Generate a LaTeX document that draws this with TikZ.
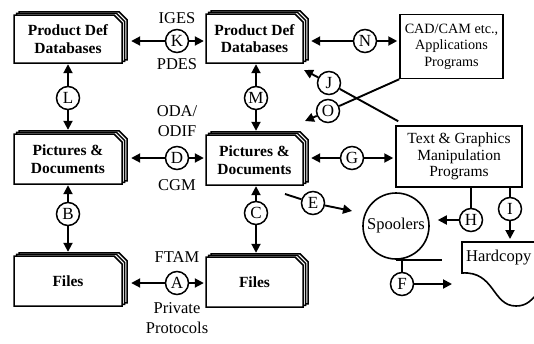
\documentclass[tikz,border=0pt]{standalone}
\usepackage{fontspec}
\setmainfont{Liberation Serif}
\usetikzlibrary{arrows.meta,calc}

\tikzset{
  cardline/.style={line width=1.5pt, fill=white, line join=miter},
  cardtext/.style={font=\fontsize{15.5}{17.5}\selectfont\bfseries, align=center, inner sep=0pt},
  plainbox/.style={draw, line width=1.5pt, align=center, font=\fontsize{15.5}{16.5}\selectfont, inner sep=0pt},
  letter/.style={circle, draw, line width=1.5pt, minimum size=23pt, inner sep=0pt, font=\fontsize{17}{17}\selectfont},
  proto/.style={font=\fontsize{16.5}{19.5}\selectfont, inner sep=0pt, align=center},
  wire/.style={line width=1.9pt},
  tip/.style={wire, -{Triangle[length=9pt,width=9pt]}},
}

% a stack of three cards with a clipped upper right corner
% #1 name, #2 left, #3 top, #4 right, #5 bottom, #6 text
\newcommand\cardstack[6]{%
  \foreach \k in {2,1,0}{%
    \draw[cardline, shift={(2.5*\k,-1.6*\k)}]
      (#2,#3) -- (#4-8,#3) -- (#4,#3+8) -- (#4,#5) -- (#2,#5) -- cycle;
  }%
  \node[cardtext, minimum width=#4-#2, minimum height=#5-#3] (#1)
    at ({(#2+#4)/2},{(#3+#5)/2}) {#6};
}

\begin{document}
\begin{tikzpicture}[x=1pt, y=-1pt]
\useasboundingbox (0,0) rectangle (534,343);

% ---- stores -------------------------------------------------------
\cardstack{LPD}{14}{15}{122}{63}{Product Def\\Databases}
\cardstack{LPic}{14}{134}{122}{184}{Pictures \&\\Documents}
\cardstack{LFiles}{14}{256}{122}{306}{Files}
\cardstack{MPD}{206}{14}{303}{63}{Product Def\\Databases}
\cardstack{MPic}{206}{135}{303}{185}{Pictures \&\\Documents}
\cardstack{MFiles}{206}{257}{303}{307}{Files}

\node[plainbox, minimum width=103pt, minimum height=64pt,
      font=\fontsize{14.2}{16.5}\selectfont] (CAD) at (451.5,46.5)
  {CAD/CAM etc.,\\Applications\\Programs};
\node[plainbox, minimum width=126pt, minimum height=61pt] (TGP) at (459,156.5)
  {Text \& Graphics\\Manipulation\\Programs};
\node[circle, draw, line width=1.6pt, minimum size=66pt, inner sep=0pt,
      font=\fontsize{16.5}{16.5}\selectfont] (SP) at (396,226) {Spoolers};

% hardcopy sheet with a curled lower edge
\draw[line width=1.6pt, line join=miter]
  (540,242) -- (462,242) -- (462,273)
  .. controls (495,271) and (492,306) .. (516,306)
  .. controls (527,306) and (532,300) .. (540,290);
\node[proto, anchor=west] (HC) at (466,258) {Hardcopy};
\coordinate (hctop) at (510,242);

% ---- protocol labels ---------------------------------------------
\node[proto] (iges) at (177,18) {IGES};
\node[proto] (pdes) at (177,64) {PDES};
\node[proto] (oda) at (177,121) {ODA/\\ODIF};
\node[proto] (cgm) at (177,185) {CGM};
\node[proto] (ftam) at (177,257) {FTAM};
\node[proto] (priv) at (177,318) {Private\\Protocols};

% ---- lettered links -------------------------------------------------
\node[letter] (K) at (177,41) {K};
\node[letter] (L) at (68,98) {L};
\node[letter] (M) at (256,98) {M};
\node[letter] (D) at (177,158) {D};
\node[letter] (B) at (68,214) {B};
\node[letter] (C) at (256,213) {C};
\node[letter] (A) at (177,283) {A};
\node[letter] (N) at (365,41) {N};
\node[letter] (J) at (329,83) {J};
\node[letter] (O) at (328,111) {O};
\node[letter] (G) at (352,158) {G};
\node[letter] (E) at (313,203) {E};
\node[letter] (F) at (402,284) {F};
\node[letter] (H) at (471,220) {H};
\node[letter] (I) at (510,209) {I};

% horizontal exchanges
\draw[tip] (K) -- ($(LPD.east |- K)+(9,0)$);
\draw[tip] (K) -- ($(MPD.west |- K)+(-2,0)$);
\draw[tip] (D) -- ($(LPic.east |- D)+(9,0)$);
\draw[tip] (D) -- ($(MPic.west |- D)+(-2,0)$);
\draw[tip] (A) -- ($(LFiles.east |- A)+(9,0)$);
\draw[tip] (A) -- ($(MFiles.west |- A)+(-2,0)$);
\draw[tip] (N) -- ($(MPD.east |- N)+(8,0)$);
\draw[tip] (N) -- ($(CAD.west |- N)+(-2,0)$);
\draw[tip] (G) -- ($(MPic.east |- G)+(8,0)$);
\draw[tip] (G) -- ($(TGP.west |- G)+(-2,0)$);

% vertical exchanges
\draw[tip] (L) -- ($(L |- LPD.south)+(0,1)$);
\draw[tip] (L) -- ($(L |- LPic.north)+(0,-4)$);
\draw[tip] (B) -- ($(B |- LPic.south)+(0,1)$);
\draw[tip] (B) -- ($(B |- LFiles.north)+(0,-4)$);
\draw[tip] (M) -- ($(M |- MPD.south)+(0,1)$);
\draw[tip] (M) -- ($(M |- MPic.north)+(0,-4)$);
\draw[tip] (C) -- ($(C |- MPic.south)+(0,1)$);
\draw[tip] (C) -- ($(C |- MFiles.north)+(0,-4)$);

% crossing links J and O
\coordinate (jend) at ($(TGP.north west)+(3,-4)$);
\coordinate (jtip) at (304,70);
\draw[wire] (jend) -- (J);
\draw[tip] (J) -- (jtip);
\coordinate (oend) at (CAD.south west);
\coordinate (otip) at (305,121);
\draw[wire] (oend) -- (O);
\draw[tip] (O) -- (otip);

% output paths
\coordinate (estart) at (285,194);
\coordinate (etip) at (352,211);
\draw[wire] (estart) -- (E);
\draw[tip] (E) -- (etip);

\coordinate (spend) at ($(SP.south)+(46,0)$);
\draw[wire] (SP.south) -- (spend);
\coordinate (ftop) at ($(SP.south)+(6,0)$);
\draw[wire] (ftop) -- (F);
\coordinate (ftip) at (452,284);
\draw[tip] (F) -- (ftip);

\draw[wire] (TGP.south -| H) -- (H);
\draw[tip] (H) -- ($(SP.east |- H)+(8,0)$);
\draw[wire] (TGP.south -| I) -- (I);
\draw[tip] (I) -- ($(hctop)+(0,-3)$);
\end{tikzpicture}
\end{document}
